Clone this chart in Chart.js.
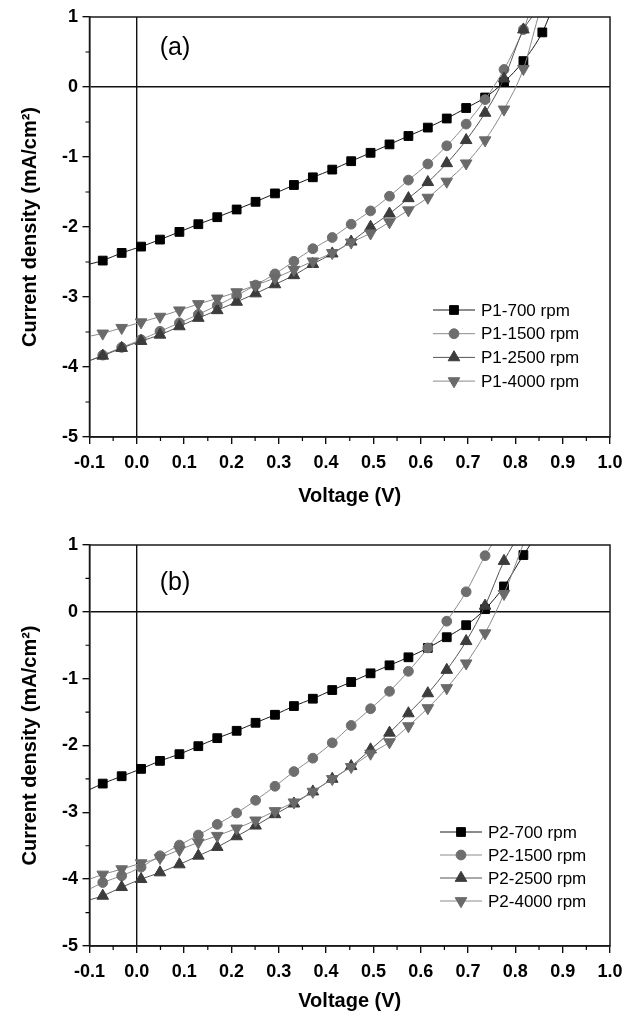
<!DOCTYPE html>
<html>
<head>
<meta charset="utf-8">
<script src="https://cdn.jsdelivr.net/npm/chart.js@4.4.1/dist/chart.umd.min.js"></script>
<style>
  html, body { margin:0; padding:0; background:#fff; overflow:hidden; }
  .panel { position:absolute; left:0; width:639px; }
  #wrapA { top:0; height:520px; }
  #wrapB { top:528px; height:489px; }
</style>
</head>
<body>
<div class="panel" id="wrapA"><canvas id="chartA"></canvas></div>
<div class="panel" id="wrapB"><canvas id="chartB"></canvas></div>
<script>
const FONT = "'Liberation Sans', Arial, Helvetica, sans-serif";

/* DATA */
// voltages where the symbols sit (V)
const voltage = [-0.072, -0.032, 0.009, 0.049, 0.090, 0.130, 0.170, 0.211, 0.251, 0.292, 0.332, 0.372,
                 0.413, 0.453, 0.494, 0.534, 0.574, 0.615, 0.655, 0.696, 0.736, 0.776, 0.817, 0.857];
const xTicks = [-0.1, 0.0, 0.1, 0.2, 0.3, 0.4, 0.5, 0.6, 0.7, 0.8, 0.9, 1.0];
const yTicks = [-5, -4, -3, -2, -1, 0, 1];

// panel (a) current density, mA/cm2
const p1_700  = [-2.48, -2.37, -2.28, -2.18, -2.07, -1.96, -1.86, -1.75, -1.64, -1.52, -1.40, -1.29,
                 -1.18, -1.06, -0.94, -0.82, -0.70, -0.58, -0.45, -0.30, -0.15, 0.07, 0.37, 0.78];
const p1_1500 = [-3.83, -3.72, -3.61, -3.49, -3.37, -3.25, -3.12, -2.98, -2.83, -2.67, -2.49, -2.31,
                 -2.15, -1.96, -1.77, -1.56, -1.33, -1.10, -0.84, -0.53, -0.18, 0.25, 0.82];
const p1_2500 = [-3.84, -3.73, -3.63, -3.54, -3.42, -3.30, -3.19, -3.07, -2.95, -2.82, -2.69, -2.53,
                 -2.38, -2.21, -2.00, -1.81, -1.59, -1.36, -1.09, -0.76, -0.37, 0.12, 0.82];
const p1_4000 = [-3.52, -3.44, -3.36, -3.28, -3.19, -3.10, -3.02, -2.93, -2.83, -2.73, -2.61, -2.49,
                 -2.37, -2.22, -2.09, -1.93, -1.76, -1.58, -1.35, -1.09, -0.76, -0.32, 0.26];
// value at V = -0.1 and voltage where each curve leaves the top (J = 1)
const p1Start = [-2.53, -3.91, -3.91, -3.56];
const p1Exit  = [0.871, 0.827, 0.835, 0.848];
const p1Labels = ["P1-700 rpm", "P1-1500 rpm", "P1-2500 rpm", "P1-4000 rpm"];

// panel (b)
const p2_700  = [-2.57, -2.46, -2.35, -2.23, -2.13, -2.01, -1.89, -1.78, -1.66, -1.54, -1.41, -1.30,
                 -1.17, -1.05, -0.92, -0.80, -0.68, -0.54, -0.38, -0.20, 0.04, 0.38, 0.85];
const p2_1500 = [-4.05, -3.95, -3.82, -3.65, -3.49, -3.34, -3.18, -3.01, -2.82, -2.61, -2.39, -2.19,
                 -1.96, -1.70, -1.45, -1.19, -0.89, -0.54, -0.14, 0.30, 0.84];
const p2_2500 = [-4.25, -4.12, -4.00, -3.90, -3.78, -3.65, -3.52, -3.36, -3.20, -3.03, -2.87, -2.69,
                 -2.50, -2.31, -2.06, -1.81, -1.52, -1.22, -0.87, -0.44, 0.09, 0.76];
const p2_4000 = [-3.93, -3.85, -3.76, -3.68, -3.56, -3.45, -3.35, -3.24, -3.12, -2.98, -2.85, -2.69,
                 -2.50, -2.32, -2.12, -1.95, -1.71, -1.44, -1.14, -0.77, -0.32, 0.27];
const p2Start = [-2.66, -4.15, -4.31, -4.00];
const p2Exit  = [0.831, 0.750, 0.795, 0.816];
const p2Labels = ["P2-700 rpm", "P2-1500 rpm", "P2-2500 rpm", "P2-4000 rpm"];

/* STYLES */
const looks = [
  {pointStyle:"rect",     radius:6.2, rotation:0,   fill:"#000000", line:"#1a1a1a"},
  {pointStyle:"circle",   radius:4.9, rotation:0,   fill:"#6e6e6e", line:"#8c8c8c"},
  {pointStyle:"triangle", radius:6.7, rotation:0,   fill:"#3c3c3c", line:"#555555"},
  {pointStyle:"triangle", radius:6.7, rotation:180, fill:"#6a6a6a", line:"#8a8a8a"}
];

function buildData(values, start, exit){
  const pts = [{x:-0.1, y:start}];
  values.forEach((v, i) => pts.push({x:voltage[i], y:v}));
  pts.push({x:exit, y:1});
  return pts;
}

function buildDatasets(series, starts, exits, labels){
  return series.map((vals, i) => {
    const lk = looks[i];
    const radii = [0, ...vals.map(() => lk.radius), 0];
    return {
      label: labels[i],
      data: buildData(vals, starts[i], exits[i]),
      order: 4 - i,
      borderColor: lk.line,
      borderWidth: 1,
      backgroundColor: lk.fill,
      pointStyle: lk.pointStyle,
      pointRotation: lk.rotation,
      pointRadius: radii,
      pointBackgroundColor: lk.fill,
      pointBorderColor: lk.fill,
      pointBorderWidth: 1,
      cubicInterpolationMode: "monotone",
      fill: false
    };
  });
}

function drawMarker(ctx, lk, x, y){
  ctx.save();
  ctx.fillStyle = lk.fill;
  ctx.strokeStyle = lk.fill;
  ctx.lineWidth = 1;
  Chart.helpers.drawPoint(ctx, {pointStyle:lk.pointStyle, radius:lk.radius, rotation:lk.rotation, borderWidth:1}, x, y);
  ctx.restore();
}

// frame, minor ticks, panel tag and in-plot legend
function decorPlugin(tag, tagPos, legend){
  return {
    id: "decor",
    afterDraw(chart){
      const ctx = chart.ctx;
      const a = chart.chartArea;
      const xs = chart.scales.x, ys = chart.scales.y;
      ctx.save();
      ctx.strokeStyle = "#1a1a1a";
      ctx.lineWidth = 1.5;
      ctx.strokeRect(a.left, a.top, a.right - a.left, a.bottom - a.top);

      // minor ticks
      ctx.lineWidth = 1.2;
      ctx.strokeStyle = "#000";
      ctx.beginPath();
      for(let i = 0; i < xTicks.length - 1; i++){
        const px = xs.getPixelForValue((xTicks[i] + xTicks[i+1]) / 2);
        ctx.moveTo(px, a.bottom); ctx.lineTo(px, a.bottom + 4);
      }
      for(let i = 0; i < yTicks.length - 1; i++){
        const py = ys.getPixelForValue((yTicks[i] + yTicks[i+1]) / 2);
        ctx.moveTo(a.left, py); ctx.lineTo(a.left - 4, py);
      }
      ctx.stroke();

      // panel tag
      ctx.fillStyle = "#000";
      ctx.font = "25px " + FONT;
      ctx.textAlign = "center";
      ctx.textBaseline = "middle";
      ctx.fillText(tag, tagPos[0], tagPos[1]);

      // legend
      ctx.font = "17px " + FONT;
      ctx.textAlign = "left";
      legend.labels.forEach((txt, i) => {
        const y = legend.y0 + i * legend.step;
        const lk = looks[i];
        ctx.strokeStyle = lk.line;
        ctx.lineWidth = 1;
        ctx.beginPath();
        ctx.moveTo(legend.x0, y); ctx.lineTo(legend.x1, y);
        ctx.stroke();
        drawMarker(ctx, lk, (legend.x0 + legend.x1) / 2, y);
        ctx.fillStyle = "#000";
        ctx.fillText(txt, legend.tx, y + 1);
      });
      ctx.restore();
    }
  };
}

function makeChart(id, datasets, opt){
  return new Chart(document.getElementById(id), {
    type: "line",
    data: { datasets },
    options: {
      responsive: true,
      maintainAspectRatio: false,
      animation: false,
      events: [],
      layout: { padding: { top: opt.padTop, right: 29, left: 0, bottom: 0 } },
      plugins: { legend: { display:false }, tooltip: { enabled:false } },
      scales: {
        x: {
          type: "linear",
          min: -0.1, max: 1.0,
          afterBuildTicks: s => { s.ticks = xTicks.map(v => ({value:v})); },
          afterFit: s => { s.height = opt.xHeight; },
          ticks: {
            color: "#000",
            maxRotation: 0,
            autoSkip: false,
            padding: 8,
            font: { family: FONT, size: 18, weight: "bold" },
            callback: v => (Math.abs(v) < 1e-9 ? 0 : v).toFixed(1)
          },
          grid: {
            color: c => (c.tick && Math.abs(c.tick.value) < 1e-9) ? "#111" : "rgba(0,0,0,0)",
            lineWidth: 1.4,
            drawTicks: true,
            tickLength: 7,
            tickColor: "#000",
            tickWidth: 1.3
          },
          border: { display:true, color:"#1a1a1a", width:1.5 },
          title: {
            display: true,
            text: "Voltage (V)",
            color: "#000",
            font: { family: FONT, size: 20, weight: "bold" },
            padding: { top: 0, bottom: opt.xTitlePad }
          }
        },
        y: {
          min: -5, max: 1,
          afterBuildTicks: s => { s.ticks = yTicks.map(v => ({value:v})); },
          afterFit: s => { s.width = 89.5; },
          ticks: {
            color: "#000",
            padding: 4.5,
            font: { family: FONT, size: 18, weight: "bold" },
            callback: v => String(v)
          },
          grid: {
            color: c => (c.tick && c.tick.value === 0) ? "#111" : "rgba(0,0,0,0)",
            lineWidth: 1.4,
            drawTicks: true,
            tickLength: 7,
            tickColor: "#000",
            tickWidth: 1.3
          },
          border: { display:true, color:"#1a1a1a", width:1.5 },
          title: {
            display: true,
            text: "Current density (mA/cm\u00B2)",
            color: "#000",
            font: { family: FONT, size: 20, weight: "bold" },
            padding: { top: 18, bottom: 0 }
          }
        }
      }
    },
    plugins: [decorPlugin(opt.tag, opt.tagPos, opt.legend)]
  });
}

makeChart("chartA",
  buildDatasets([p1_700, p1_1500, p1_2500, p1_4000], p1Start, p1Exit, p1Labels),
  { padTop: 17, xHeight: 83, xTitlePad: 12, tag: "(a)", tagPos: [175, 48],
    legend: { labels: p1Labels, x0: 433, x1: 475, tx: 481, y0: 310, step: 23.7 } });

makeChart("chartB",
  buildDatasets([p2_700, p2_1500, p2_2500, p2_4000], p2Start, p2Exit, p2Labels),
  { padTop: 17, xHeight: 71, xTitlePad: 4, tag: "(b)", tagPos: [175, 55],
    legend: { labels: p2Labels, x0: 440, x1: 482, tx: 488, y0: 304, step: 23 } });
</script>
</body>
</html>
